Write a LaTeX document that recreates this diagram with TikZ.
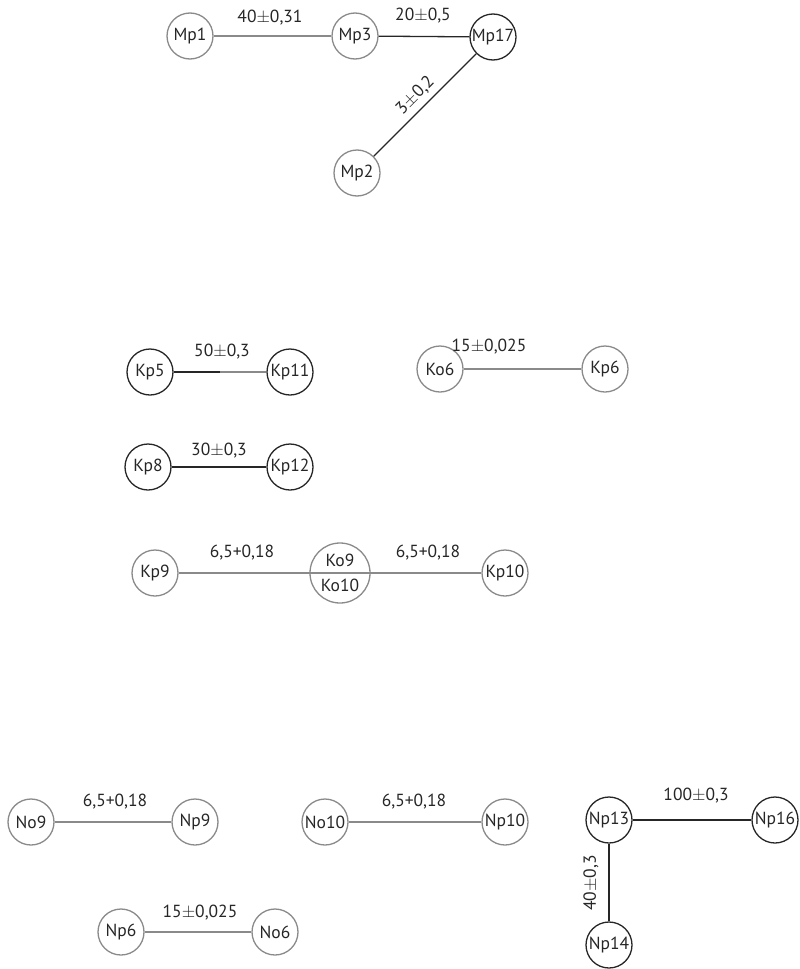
\documentclass[tikz,border=0pt]{standalone}
\usepackage{fontspec}
\setmainfont{PT Sans}
\definecolor{lightline}{HTML}{8A8A8A}
\definecolor{darkline}{HTML}{262626}
\tikzset{
  lbl/.style={font=\fontsize{17.5}{17.5}\selectfont, text=black!85},
  pt/.style={circle, draw, line width=1.3pt, minimum size=46pt, inner sep=0pt, lbl},
  ptl/.style={pt, draw=lightline},
  ptd/.style={pt, draw=darkline},
  edgel/.style={draw=lightline, line width=1.3pt},
  edged/.style={draw=darkline, line width=1.3pt},
  dim/.style={lbl, inner sep=1pt},
}
\begin{document}
\begin{tikzpicture}[x=1pt, y=-1pt]
\useasboundingbox (0,0) rectangle (800,969);

% top group
\node[ptl] (mp1) at (190,36) {Mp1};
\node[ptl] (mp3) at (355,36) {Mp3};
\node[ptd] (mp17) at (493,37) {Mp17};
\node[ptl] (mp2) at (357,173) {Mp2};
\draw[edgel] (mp1) -- (mp3);
\draw[edged] (mp3) -- (mp17);
\draw[edged] (mp17) -- (mp2);
\node[dim] at (270,18) {40$\pm$0,31};
\node[dim] at (423,16) {20$\pm$0,5};
\path (mp17) -- (mp2) node[dim, midway, sloped, above=5pt] {3$\pm$0,2};

% K group
\node[ptd] (kp5) at (150,372) {Kp5};
\node[ptd] (kp11) at (290,372) {Kp11};
\coordinate (kmid) at (220,372);
\draw[edged] (kp5) -- (kmid);
\draw[edgel] (kmid) -- (kp11);
\node[dim] at (222,352) {50$\pm$0,3};

\node[ptl] (ko6) at (440,369) {Ko6};
\node[ptl] (kp6) at (605,369) {Kp6};
\draw[edgel] (ko6) -- (kp6);
\node[dim] at (489,347) {15$\pm$0,025};

\node[ptd] (kp8) at (148,467) {Kp8};
\node[ptd] (kp12) at (290,467) {Kp12};
\draw[edged] (kp8) -- (kp12);
\node[dim] at (219,451) {30$\pm$0,3};

\node[ptl] (kp9) at (155,573) {Kp9};
\node[circle, draw=lightline, line width=1.3pt, minimum size=60pt, inner sep=0pt] (ko) at (340,573) {};
\draw[edgel] (ko.west) -- (ko.east);
\node[lbl, anchor=base] (ko9) at (340,566) {Ko9};
\node[lbl, anchor=base] (ko10) at (340,591) {Ko10};
\node[ptl] (kp10) at (505,573) {Kp10};
\draw[edgel] (kp9) -- (ko);
\draw[edgel] (ko) -- (kp10);
\node[dim] at (242,553) {6,5+0,18};
\node[dim] at (428,553) {6,5+0,18};

% N group
\node[ptl] (no9) at (31,822) {No9};
\node[ptl] (np9) at (195,822) {Np9};
\draw[edgel] (no9) -- (np9);
\node[dim] at (115,802) {6,5+0,18};

\node[ptl] (no10) at (325,822) {No10};
\node[ptl] (np10) at (505,822) {Np10};
\draw[edgel] (no10) -- (np10);
\node[dim] at (414,802) {6,5+0,18};

\node[ptd] (np13) at (609,820) {Np13};
\node[ptd] (np16) at (775,820) {Np16};
\node[ptd] (np14) at (609,945) {Np14};
\draw[edged] (np13) -- (np16);
\draw[edged] (np13) -- (np14);
\node[dim] at (696,796) {100$\pm$0,3};
\node[dim, rotate=90] at (591,883) {40$\pm$0,3};

\node[ptl] (np6) at (121,932) {Np6};
\node[ptl] (no6) at (275,932) {No6};
\draw[edgel] (np6) -- (no6);
\node[dim] at (200,913) {15$\pm$0,025};
\end{tikzpicture}
\end{document}
